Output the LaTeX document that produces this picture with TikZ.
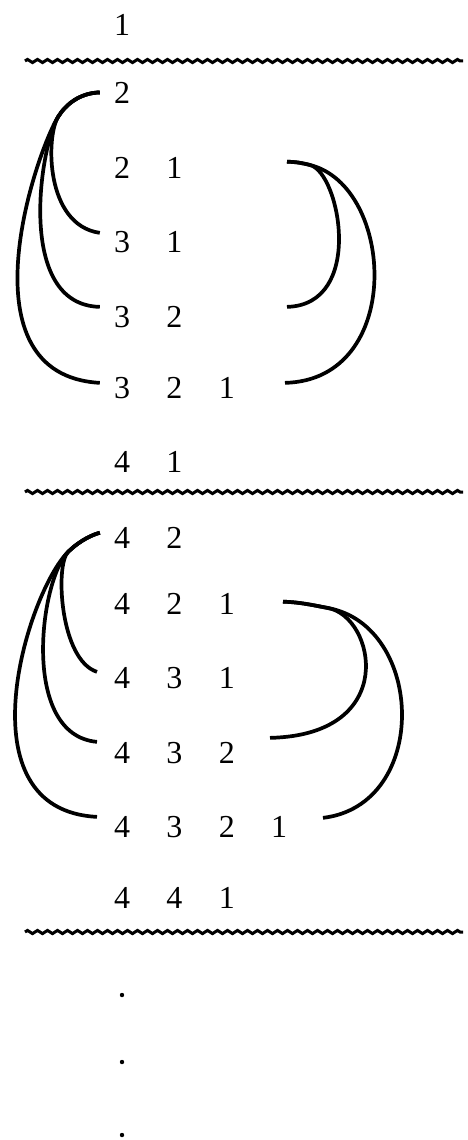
\documentclass[tikz,border=0pt]{standalone}
\usepackage{fontspec}
\setmainfont{Liberation Serif}
\usetikzlibrary{decorations.pathmorphing}
\newcommand{\dcell}[1]{\makebox[52.4pt]{#1}}
\tikzset{
  row/.style={anchor=base west, inner sep=0pt, outer sep=0pt, font=\fontsize{32}{32}\selectfont},
  arcline/.style={line width=3.7pt},
  wavy/.style={line width=3pt, decorate, decoration={zigzag, segment length=10pt, amplitude=1.6pt}},
  dotmark/.style={fill=black},
}
\begin{document}
\begin{tikzpicture}[x=1pt,y=-1pt]
\useasboundingbox (0,0) rectangle (468,1140);
% rows
\node[row] (r1)    at (95.8,36)  {\dcell{1}};
\node[row] (r2)    at (95.8,103) {\dcell{2}};
\node[row] (r21)   at (95.8,178) {\dcell{2}\dcell{1}};
\node[row] (r31)   at (95.8,252) {\dcell{3}\dcell{1}};
\node[row] (r32)   at (95.8,327) {\dcell{3}\dcell{2}};
\node[row] (r321)  at (95.8,398) {\dcell{3}\dcell{2}\dcell{1}};
\node[row] (r41)   at (95.8,472) {\dcell{4}\dcell{1}};
\node[row] (r42)   at (95.8,548) {\dcell{4}\dcell{2}};
\node[row] (r421)  at (95.8,614) {\dcell{4}\dcell{2}\dcell{1}};
\node[row] (r431)  at (95.8,688) {\dcell{4}\dcell{3}\dcell{1}};
\node[row] (r432)  at (95.8,763) {\dcell{4}\dcell{3}\dcell{2}};
\node[row] (r4321) at (95.8,837) {\dcell{4}\dcell{3}\dcell{2}\dcell{1}};
\node[row] (r441)  at (95.8,908) {\dcell{4}\dcell{4}\dcell{1}};
% separators
\draw[wavy] (25,61) -- (463,61);
\draw[wavy] (25,492) -- (463,492);
\draw[wavy] (25,932) -- (463,932);
% top section, left arcs (shared start, then diverging)
\draw[arcline] ([xshift=4pt]r2.west) .. controls (80,93) and (66,104) .. (58,117)
   .. controls (35.6,153.4) and (-40,375) .. ([xshift=4pt,yshift=4.7pt]r321.west);
\draw[arcline] ([xshift=4pt]r2.west) .. controls (80,93) and (66,104) .. (58,117)
   .. controls (40.4,145.6) and (15,305) .. ([xshift=4pt,yshift=9.7pt]r32.west);
\draw[arcline] ([xshift=4pt]r2.west) .. controls (80,93) and (66,104) .. (58,117)
   .. controls (46,136.5) and (45,225) .. ([xshift=4pt,yshift=8.7pt]r31.west);
% top section, right arcs
\draw[arcline] ([xshift=86.4pt,yshift=5.7pt]r21.east) .. controls (297,162) and (302,163) .. (310,165)
   .. controls (340,172.5) and (365,305) .. ([xshift=86.4pt,yshift=9.7pt]r32.east);
\draw[arcline] ([xshift=86.4pt,yshift=5.7pt]r21.east) .. controls (297,162) and (302,163) .. (310,165)
   .. controls (395,186) and (405,380) .. ([xshift=32pt,yshift=4.7pt]r321.east);
% middle section, left arcs
\draw[arcline] ([xshift=4pt,yshift=4.7pt]r42.west) .. controls (88,536) and (76,544) .. (68,552)
   .. controls (27,593) and (-40,810) .. ([xshift=1.2pt,yshift=9.7pt]r4321.west);
\draw[arcline] ([xshift=4pt,yshift=4.7pt]r42.west) .. controls (88,536) and (76,544) .. (68,552)
   .. controls (40,580) and (20,735) .. ([xshift=1.2pt,yshift=10.7pt]r432.west);
\draw[arcline] ([xshift=4pt,yshift=4.7pt]r42.west) .. controls (88,536) and (76,544) .. (68,552)
   .. controls (55,565) and (60,660) .. ([xshift=1.2pt,yshift=5.7pt]r431.west);
% middle section, right arcs
\draw[arcline] ([xshift=30pt,yshift=1.7pt]r421.east) .. controls (300,602) and (317,606) .. (328,608)
   .. controls (375,616.5) and (400,735) .. ([xshift=17pt,yshift=14.7pt]r432.east);
\draw[arcline] ([xshift=30pt,yshift=1.7pt]r421.east) .. controls (300,602) and (317,606) .. (328,608)
   .. controls (425,626) and (430,805) .. ([xshift=17.6pt,yshift=8.7pt]r4321.east);
% dots
\fill[dotmark] (122,995) circle (2.2);
\fill[dotmark] (122,1062) circle (2.2);
\fill[dotmark] (122,1135) circle (2.2);
\end{tikzpicture}
\end{document}
